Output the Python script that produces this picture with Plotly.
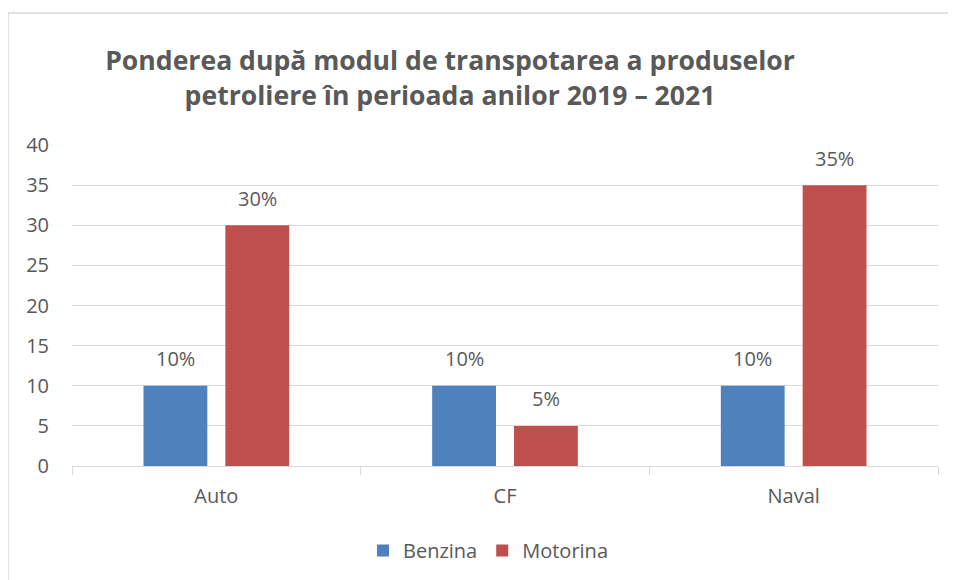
import plotly.graph_objects as go

categories = ["Auto", "CF", "Naval"]
benzina = [10, 10, 10]
motorina = [30, 5, 35]
series_names = ["Benzina", "Motorina"]
title_text = "Ponderea după modul de transpotarea a produselor<br>petroliere în perioada anilor 2019 – 2021"

FONT = "'Open Sans', sans-serif"
GREY = "#595959"
OFF = 8  # browser body margin

fig = go.Figure()
fig.add_trace(go.Bar(
    x=categories, y=benzina, name=series_names[0],
    marker=dict(color="#4F81BD", line=dict(width=0)),
))
fig.add_trace(go.Bar(
    x=categories, y=motorina, name=series_names[1],
    marker=dict(color="#C0504D", line=dict(width=0)),
))

# data labels above bars
for vals, shift in ((benzina, -41), (motorina, 41)):
    for c, v in zip(categories, vals):
        fig.add_annotation(x=c, y=v, text=f"{v}%", showarrow=False, xshift=shift,
                           yshift=27, yanchor="middle",
                           font=dict(size=20, color=GREY, family=FONT))

L, T, R, B = 72 - OFF, 145 - OFF, 956 - (938 - OFF), 580 - (466 - OFF)
PW, PH = 956 - L - R, 580 - T - B

fig.update_layout(
    width=956, height=580,
    margin=dict(l=L, r=R, t=T, b=B),
    paper_bgcolor="white", plot_bgcolor="white",
    font=dict(family=FONT, color=GREY, size=20),
    barmode="group", bargap=0.433, bargroupgap=0.22,
    title=dict(text=title_text, x=(450 - OFF - L) / PW, xanchor="center", xref="paper",
               y=1 - (70 - OFF) / 580, yanchor="top",
               font=dict(size=26.6, family=FONT, color=GREY, weight="bold")),
    legend=dict(orientation="h", x=(488 - OFF - L) / PW, xanchor="center",
                y=-(531 - 466) / PH, yanchor="top",
                font=dict(size=20, color=GREY, family=FONT), itemwidth=30),
    showlegend=True,
)
fig.update_yaxes(range=[0, 40], dtick=5, showgrid=True, gridcolor="#D9D9D9", gridwidth=1.3,
                 zeroline=False, showline=False, ticks="", ticklabelstandoff=22,
                 tickfont=dict(size=20, color=GREY))
fig.update_xaxes(showline=True, linecolor="#D9D9D9", linewidth=1.3, ticks="outside",
                 tickson="boundaries", ticklen=8, tickcolor="#D9D9D9", tickwidth=1.3,
                 ticklabelstandoff=12, tickfont=dict(size=20, color=GREY))
fig.add_shape(type="rect", xref="paper", yref="paper",
              x0=(0 - L) / PW, x1=(1000 - L) / PW, y0=(B - 650) / PH, y1=(580 - 5 - B) / PH,
              line=dict(color="#D9D9D9", width=1.5), fillcolor="rgba(0,0,0,0)", layer="below")

fig.write_html("out.html")
